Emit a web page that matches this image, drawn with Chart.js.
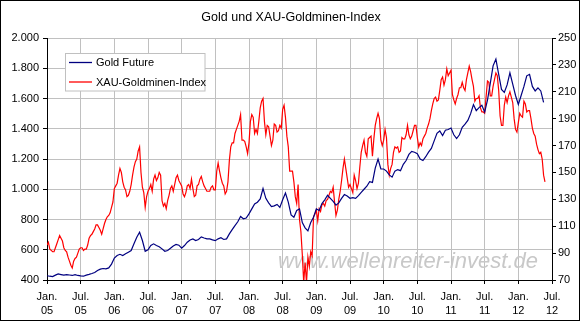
<!DOCTYPE html>
<html>
<head>
<meta charset="utf-8">
<script src="https://cdn.jsdelivr.net/npm/chart.js@4/dist/chart.umd.min.js"></script>
<style>
html, body { margin: 0; padding: 0; background: #fff; }
</style>
</head>
<body>
<canvas id="goldChart" width="582" height="324"></canvas>
<script>

const chartTitle = "Gold und XAU-Goldminen-Index";

const seriesNames = ["Gold Future", "XAU-Goldminen-Index"];

const watermarkText = "www.wellenreiter-invest.de";

const tickMonths = ["Jan.", "Jul."];

// Gold: one reading every half month, starting Jan. 2005
const goldFuture = [
    428, 425, 423, 432, 440, 436, 432, 435, 433, 430,
    436, 430, 427, 425, 432, 437, 443, 450, 463, 472,
    476, 474, 480, 505, 545, 562, 570, 562, 573, 584,
    595, 639, 683, 716, 661, 590, 600,
    628, 639, 628, 620, 606, 590, 595, 610, 625, 635,
    630, 610, 628, 650, 665, 672, 661, 668, 685, 678,
    672, 672, 665, 660, 672, 680, 668, 672, 705, 733,
    760, 785, 820, 805, 810, 837,
    870, 903, 914, 936, 1005, 940, 910, 885, 890, 900,
    880, 930, 975, 915, 830, 815, 860, 870, 780, 745,
    725, 780, 815, 870, 860, 905, 930, 960, 940, 920,
    895, 910, 940, 965, 955, 940,
    945, 940, 958, 980, 1000, 1020, 1050, 1045, 1140, 1200,
    1135, 1134, 1120, 1095, 1080, 1120, 1130, 1123, 1165, 1190,
    1230, 1250, 1245, 1235, 1200, 1190, 1215, 1245, 1270, 1320,
    1370, 1385, 1355, 1390, 1395, 1405,
    1360, 1335, 1360, 1410, 1430, 1455, 1500, 1560, 1520, 1540,
    1555, 1510, 1590, 1700, 1816, 1860, 1760, 1660, 1640, 1690,
    1770, 1695, 1620, 1560, 1620, 1680, 1750, 1760, 1680, 1650,
    1670, 1650, 1575
];

// XAU: one reading every quarter month, starting Jan. 2005
const xauIndex = [
    96, 98, 93, 92, 91, 91, 94, 97, 100, 103,
    101, 99, 94, 92, 91, 87, 84, 81, 79, 84,
    86, 87, 90, 93, 94, 94, 92, 93, 93, 96,
    101, 103, 104, 106, 108, 111, 111, 109, 107, 104,
    108, 112, 115, 117, 118, 120, 124, 128, 138, 140,
    142, 148, 153, 150, 143, 139, 137, 132, 133, 136,
    141, 148, 154, 158, 160, 166, 169, 150, 139, 135,
    124, 132, 136,
    138, 141, 136, 145, 148, 144, 146, 150, 148, 129,
    125, 127, 123, 129, 133, 138, 140, 136, 141, 146,
    148, 144, 142, 140, 134, 132, 135, 140, 141, 138,
    145, 138, 132, 133, 140, 141, 145, 147, 143, 140,
    138, 136, 136, 136, 139, 140, 137, 137, 151, 157,
    151, 146, 142, 140, 134, 136, 143, 159, 169, 172,
    172, 179, 182, 185, 188, 193, 174, 174, 173, 169,
    164, 172,
    188, 193, 191, 179, 182, 179, 188, 198, 203, 205,
    188, 178, 185, 184, 177, 170, 174, 186, 185, 180,
    181, 185, 183, 197, 200, 191, 177, 169, 151, 151,
    151, 143, 132, 127, 141, 115, 106, 89, 68, 83,
    68, 87, 80, 91, 88, 117, 119, 122, 114, 123,
    121, 126, 127, 125, 129, 130, 133, 136, 135, 139,
    128, 118, 122, 130, 136, 144, 153, 160, 153, 146,
    139, 141,
    138, 135, 148, 144, 138, 142, 154, 165, 170, 174,
    165, 162, 175, 176, 177, 162, 175, 185, 190, 194,
    190, 174, 170, 174, 182, 176, 156, 148, 153, 156,
    165, 169, 168, 169, 165, 166, 176, 175, 175, 178,
    185, 178, 175, 177, 181, 185, 185, 176, 169, 172,
    170, 175, 177, 179, 183, 186, 190, 196, 201, 205,
    206, 203, 204, 211, 219, 221, 215, 219, 227, 222,
    224, 226,
    208, 204, 201, 205, 208, 213, 213, 217, 213, 211,
    219, 224, 229, 225, 219, 214, 203, 205, 205, 207,
    198, 195, 195, 194, 206, 218, 217, 207, 207, 214,
    219, 224, 222, 211, 192, 185, 185, 200, 206, 202,
    207, 210, 206, 202, 190, 182, 180, 187, 194, 192,
    191, 203, 201, 195, 196, 196, 190, 183, 179, 177,
    171, 167, 164, 165, 160, 148, 143
];

const goldStepMonths = 0.5;

const xauStepMonths = 0.25;

const seriesColors = ["#000080", "#ff0000"];

const fontFamily = "'Liberation Sans', Arial, sans-serif";

function toPoints(values, step) {
    // x = months since Jan. 2005
    return values.map((v, i) => ({ x: i * step, y: v }));
}

function germanThousands(v) {
    if (v < 1000) return String(v);
    return Math.floor(v / 1000) + "." + String(v % 1000).padStart(3, "0");
}

const decorations = {

    id: "decorations",

    beforeDatasetsDraw(chart) {
        const ctx = chart.ctx;
        ctx.save();
        ctx.font = "italic 22px " + fontFamily;
        ctx.fillStyle = "#c8c8c8";
        ctx.textBaseline = "alphabetic";
        ctx.textAlign = "left";
        ctx.fillText(watermarkText, 278, 268);
        ctx.restore();
    },

    afterDraw(chart) {
        const ctx = chart.ctx;
        ctx.save();

        // title
        ctx.font = "12.5px " + fontFamily;
        ctx.fillStyle = "#000";
        ctx.textAlign = "center";
        ctx.textBaseline = "middle";
        ctx.fillText(chartTitle, 291, 18);

        // legend box
        ctx.fillStyle = "#fff";
        ctx.fillRect(65.5, 53.5, 139.5, 37.5);
        ctx.strokeStyle = "#c0c0c0";
        ctx.lineWidth = 1;
        ctx.strokeRect(65.5, 53.5, 139.5, 37.5);

        const rows = [62.5, 82];
        ctx.font = "11px " + fontFamily;
        ctx.textAlign = "left";
        for (let i = 0; i < seriesNames.length; i++) {
            ctx.strokeStyle = seriesColors[i];
            ctx.lineWidth = 1.3;
            ctx.beginPath();
            ctx.moveTo(69, rows[i]);
            ctx.lineTo(92, rows[i]);
            ctx.stroke();
            ctx.fillStyle = "#000";
            ctx.fillText(seriesNames[i], 96, rows[i] + 0.5);
        }

        // outer frame
        ctx.strokeStyle = "#000";
        ctx.lineWidth = 1;
        ctx.strokeRect(0.5, 0.5, 579, 320);

        ctx.restore();
    }

};

new Chart(

    document.getElementById("goldChart"),

    {

        type: "line",

        data: {

            datasets: [

                {
                    label: seriesNames[0],
                    data: toPoints(goldFuture, goldStepMonths),
                    borderColor: seriesColors[0],
                    borderWidth: 1.2,
                    yAxisID: "y"
                },

                {
                    label: seriesNames[1],
                    data: toPoints(xauIndex, xauStepMonths),
                    borderColor: seriesColors[1],
                    borderWidth: 1.2,
                    yAxisID: "y2"
                }

            ]

        },

        options: {

            responsive: false,
            animation: false,
            devicePixelRatio: 1,
            events: [],

            layout: {
                padding: { top: 38, left: 0, right: 0, bottom: 0 }
            },

            elements: {
                point: { radius: 0 },
                line: { tension: 0 }
            },

            plugins: {
                legend: { display: false },
                title: { display: false },
                tooltip: { enabled: false }
            },

            scales: {

                x: {
                    type: "linear",
                    min: 0,
                    max: 90,
                    afterFit: s => { s.height = 44; },
                    afterBuildTicks: s => {
                        s.ticks = [];
                        for (let m = 0; m <= 90; m += 6) s.ticks.push({ value: m });
                    },
                    ticks: {
                        autoSkip: false,
                        maxRotation: 0,
                        padding: 6,
                        color: "#000",
                        font: { family: fontFamily, size: 11, lineHeight: 1.3 },
                        callback: v => [
                            tickMonths[(v / 6) % 2],
                            String(5 + Math.floor(v / 12)).padStart(2, "0")
                        ]
                    },
                    grid: {
                        color: "#c0c0c0",
                        tickColor: "#000",
                        tickLength: 4
                    },
                    border: { color: "#000" }
                },

                y: {
                    position: "left",
                    min: 400,
                    max: 2000,
                    afterFit: s => { s.width = 47; },
                    ticks: {
                        stepSize: 200,
                        padding: 4,
                        color: "#000",
                        font: { family: fontFamily, size: 11 },
                        callback: v => germanThousands(v)
                    },
                    grid: {
                        color: "#c0c0c0",
                        tickColor: "#000",
                        tickLength: 4
                    },
                    border: { color: "#000" }
                },

                y2: {
                    position: "right",
                    min: 70,
                    max: 250,
                    afterFit: s => { s.width = 30; },
                    ticks: {
                        stepSize: 20,
                        padding: 2,
                        color: "#000",
                        font: { family: fontFamily, size: 11 }
                    },
                    grid: {
                        drawOnChartArea: false,
                        tickColor: "#000",
                        tickLength: 4
                    },
                    border: { color: "#000" }
                }

            }

        },

        plugins: [decorations]

    }

);

</script>
</body>
</html>
